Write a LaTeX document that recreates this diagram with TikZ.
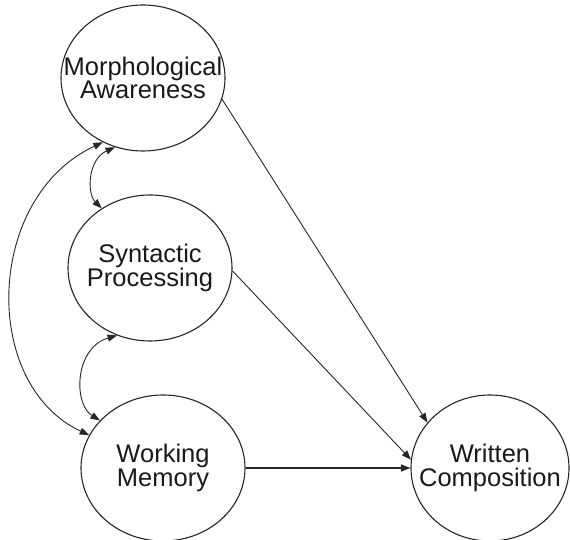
\documentclass[tikz,border=0pt]{standalone}
\usepackage{fontspec}
\setmainfont{Liberation Sans}
\usetikzlibrary{arrows.meta,shapes.geometric}
\begin{document}
\begin{tikzpicture}[x=1pt,y=1pt,
  construct/.style={draw=black!85, line width=1.1pt, ellipse,
    minimum width=164pt, minimum height=146pt, inner sep=0pt},
  caption/.style={font=\fontsize{25.5}{23.5}\selectfont, align=center, text=black!90},
  tip/.tip={Triangle[length=9.5pt,width=7pt]},
  link/.style={draw=black!85, line width=0.9pt, -tip},
  corr/.style={draw=black!85, line width=0.9pt, tip-tip}]
\useasboundingbox (0,0) rectangle (570,540);

% latent constructs
\node[construct, label={[caption]center:Morphological\\Awareness}] (ma) at (143,462) {};
\node[construct, label={[caption]center:Syntactic\\Processing}] (sp) at (150,272) {};
\node[construct, label={[caption]center:Working\\Memory}] (wm) at (163,72) {};
\node[construct, minimum width=158pt, label={[caption]center:Written\\Composition}] (wc) at (490,72) {};

% direct paths to the outcome
\draw[link] (ma.-15) -- (wc.144);
\draw[link] (sp.-2) -- (wc.174);
\draw[link, line width=1.3pt] (wm) -- (wc);

% correlations among predictors
\draw[corr] (ma.248) .. controls +(204:30) and +(135:21) .. (sp.129);
\draw[corr] (sp.244) .. controls +(196:44) and +(148:32) .. (wm.143);
\draw[corr] (ma.238) .. controls +(205:130) and +(155:120) .. (wm.156);
\end{tikzpicture}
\end{document}
